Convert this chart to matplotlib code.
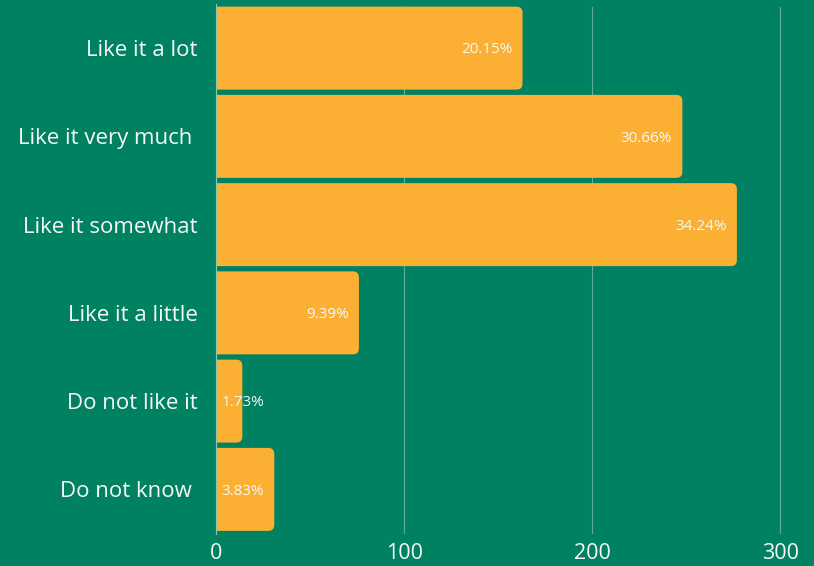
import matplotlib
matplotlib.use("Agg")
import matplotlib.pyplot as plt
from matplotlib.patches import FancyBboxPatch

# survey answers, counts per answer
categories = ["Like it a lot", "Like it very much ", "Like it somewhat",
              "Like it a little", "Do not like it", "Do not know "]
counts = [163, 248, 277, 76, 14, 31]
xticks = [0, 100, 200, 300]

BG = "#008262"
BAR = "#FBB034"
TXT = "#F7F7F7"

plt.rcParams["font.family"] = ["Open Sans", "DejaVu Sans"]

fig = plt.figure(figsize=(8.14, 5.66), dpi=100, facecolor=BG)
ax = fig.add_axes([216 / 814, 1 - 533.5 / 566, 1 - 216 / 814, 529.5 / 566])
ax.set_facecolor(BG)

total = sum(counts)
ypos = list(range(len(categories)))
bars = ax.barh(ypos, counts, height=0.94, color=BAR, zorder=2)

# swap plain rectangles for ones with rounded ends
px_x = 1.88
px_y = 88.3
for rect in bars:
    x0, y0, w, h = rect.get_x(), rect.get_y(), rect.get_width(), rect.get_height()
    rect.remove()
    r = 6 / px_x
    patch = FancyBboxPatch((x0 - 10, y0), w + 10, h,
                           boxstyle=f"round,pad=0,rounding_size={r}",
                           mutation_aspect=px_x / px_y,
                           facecolor=BAR, edgecolor="none", zorder=2)
    ax.add_patch(patch)

for y, v in zip(ypos, counts):
    label = f"{v / total * 100:.2f}%"
    if v > 25:
        ax.text(v - 5.5, y + 0.02, label, ha="right", va="center",
                color=TXT, fontsize=11, zorder=3)
    else:
        ax.text(3, y + 0.02, label, ha="left", va="center",
                color=TXT, fontsize=11, zorder=3)

ax.set_xlim(0, 318)
ax.set_ylim(5.5, -0.5)
ax.set_xticks(xticks)
ax.set_xticklabels([str(t) for t in xticks])
ax.set_yticks(ypos)
ax.set_yticklabels(categories)
ax.tick_params(axis="x", length=0, pad=7, labelsize=15.5, labelcolor=TXT)
ax.tick_params(axis="y", length=0, pad=13, labelsize=16, labelcolor=TXT)

for t in xticks[1:]:
    ax.axvline(t, color="#5FAE95", linewidth=0.8, ymax=0.995, zorder=1)
for s in ["top", "right", "bottom"]:
    ax.spines[s].set_visible(False)
ax.spines["left"].set_color("#8FC4B2")
ax.spines["left"].set_linewidth(0.8)
ax.spines["left"].set_zorder(4)

fig.savefig("out.png", dpi=100, facecolor=BG)
